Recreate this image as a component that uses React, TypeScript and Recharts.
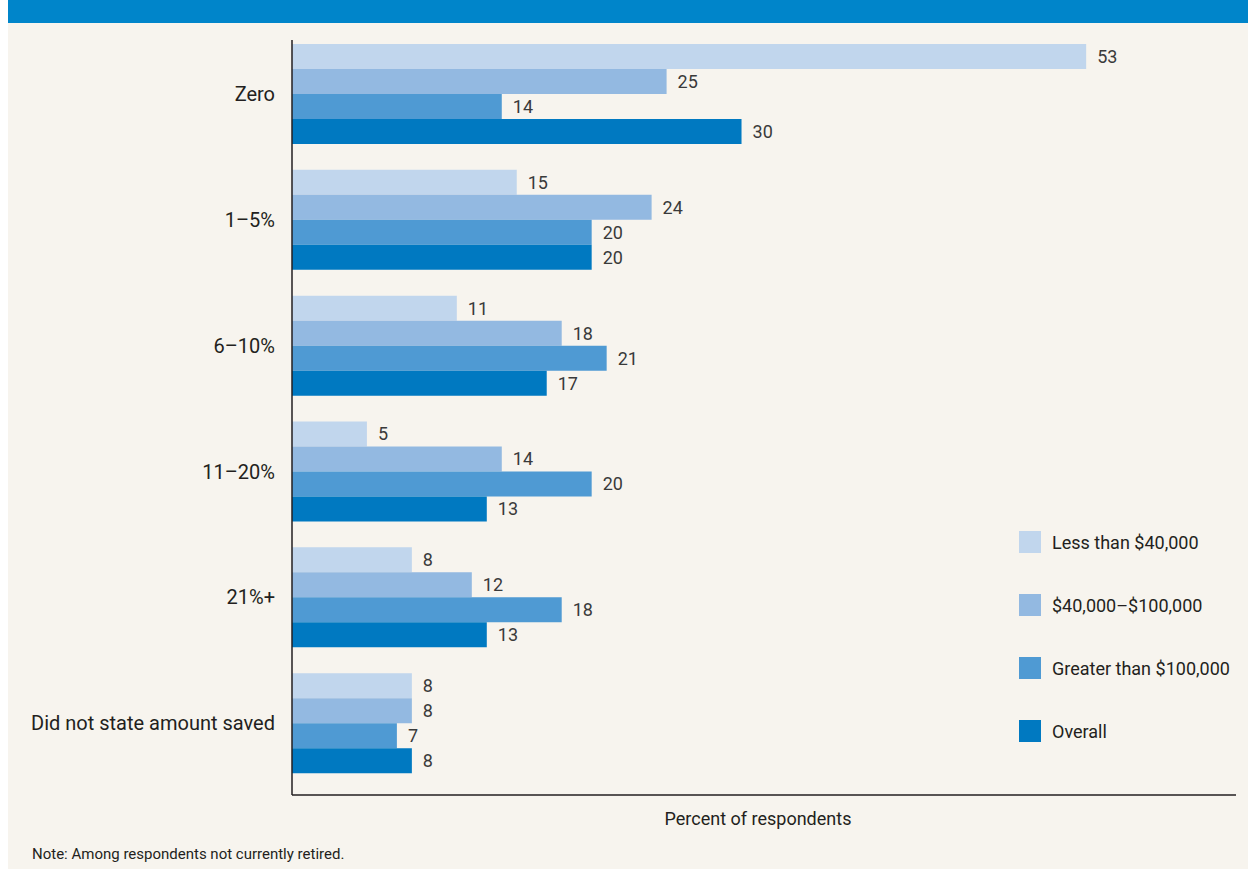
import React from "react";
import { BarChart, Bar, XAxis, YAxis, LabelList } from "recharts";

const categories = ["Zero", "1–5%", "6–10%", "11–20%", "21%+", "Did not state amount saved"];
const lessThan40k = [53, 15, 11, 5, 8, 8];
const from40kTo100k = [25, 24, 18, 14, 12, 8];
const greaterThan100k = [14, 20, 21, 20, 18, 7];
const overall = [30, 20, 17, 13, 13, 8];

const series = [
  { key: "low", name: "Less than $40,000", color: "#c1d6ed" },
  { key: "mid", name: "$40,000–$100,000", color: "#93b9e1" },
  { key: "high", name: "Greater than $100,000", color: "#4f9ad3" },
  { key: "all", name: "Overall", color: "#0079c1" },
];

const data = categories.map((c, i) => ({
  category: c,
  low: lessThan40k[i],
  mid: from40kTo100k[i],
  high: greaterThan100k[i],
  all: overall[i],
}));

const FONT = "'Liberation Sans Narrow', 'Arial Narrow', Roboto, 'Liberation Sans', sans-serif";
const BG = "#f7f4ee";

export default function App() {
  return (
    <div
      style={{
        position: "absolute",
        top: 0,
        left: 0,
        width: 1248,
        height: 869,
        background: "#fff",
        fontFamily: FONT,
        overflow: "hidden",
      }}
    >
      <div style={{ position: "absolute", left: 8, top: 0, width: 1240, height: 23, background: "#0085ca" }} />
      <div style={{ position: "absolute", left: 8, top: 23, width: 1240, height: 846, background: BG }} />
      <div style={{ position: "absolute", left: 0, top: 0 }}>
        <BarChart
          width={1248}
          height={869}
          data={data}
          layout="vertical"
          margin={{ top: 40, right: 12, bottom: 44, left: 12 }}
          barGap={0}
          barCategoryGap={13}
        >
          <XAxis
            type="number"
            domain={[0, 63]}
            tick={false}
            tickLine={false}
            height={30}
            axisLine={{ stroke: "#231f20", strokeWidth: 1.5 }}
          />
          <YAxis
            type="category"
            dataKey="category"
            width={280}
            padding={{ top: -9, bottom: 9 }}
            tickLine={false}
            tickMargin={11}
            axisLine={{ stroke: "#231f20", strokeWidth: 1.5 }}
            tick={{ fill: "#231f20", fontSize: 20, fontFamily: FONT }}
          />
          {series.map((s) => (
            <Bar key={s.key} dataKey={s.key} name={s.name} fill={s.color} barSize={25} isAnimationActive={false}>
              <LabelList
                dataKey={s.key}
                position="right"
                offset={11}
                style={{ fill: "#3a3a3a", fontSize: 18, fontFamily: FONT }}
              />
            </Bar>
          ))}
        </BarChart>
      </div>
      {series.map((s, i) => (
        <div
          key={s.key}
          style={{ position: "absolute", left: 1019, top: 531 + i * 63, display: "flex", alignItems: "center" }}
        >
          <div style={{ width: 22, height: 22, background: s.color }} />
          <span style={{ marginLeft: 11, fontSize: 18, color: "#231f20" }}>{s.name}</span>
        </div>
      ))}
      <div style={{ position: "absolute", left: 658, top: 808, width: 200, textAlign: "center", fontSize: 18, color: "#231f20" }}>
        Percent of respondents
      </div>
      <div style={{ position: "absolute", left: 32, top: 845, fontSize: 15, color: "#231f20" }}>
        Note: Among respondents not currently retired.
      </div>
    </div>
  );
}
